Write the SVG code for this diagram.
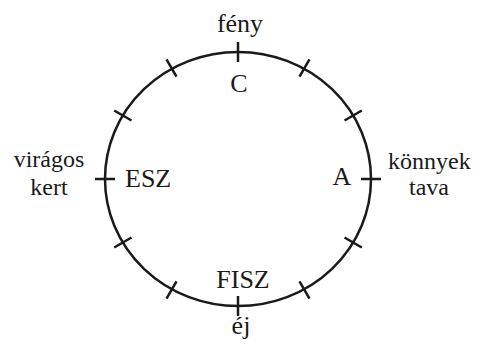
<svg xmlns="http://www.w3.org/2000/svg" width="484" height="349" viewBox="0 0 484 349">
<style>
.t{font-family:"Liberation Serif","DejaVu Serif",serif;font-size:26px;fill:#1a1a1a}
.s{font-size:24px}
.c{text-anchor:middle}
.ring{fill:none;stroke:#1a1a1a;stroke-width:2.5}
.tick{stroke:#1a1a1a;stroke-width:2.5}
</style>
<rect width="484" height="349" fill="#fff"/>
<g id="connectors">
<ellipse class="ring" cx="238" cy="179" rx="133" ry="127"/>
<g id="ticks">
<line class="tick" x1="238" y1="42" x2="238" y2="62"/>
<line class="tick" x1="238" y1="296" x2="238" y2="316"/>
<line class="tick" x1="95" y1="179" x2="115" y2="179"/>
<line class="tick" x1="361" y1="179" x2="381" y2="179"/>
<line class="tick" x1="166.5" y1="59.4" x2="176.5" y2="76.7"/>
<line class="tick" x1="309.5" y1="59.4" x2="299.5" y2="76.7"/>
<line class="tick" x1="166.5" y1="298.6" x2="176.5" y2="281.3"/>
<line class="tick" x1="309.5" y1="298.6" x2="299.5" y2="281.3"/>
<line class="tick" x1="114.2" y1="110.5" x2="131.5" y2="120.5"/>
<line class="tick" x1="361.8" y1="110.5" x2="344.5" y2="120.5"/>
<line class="tick" x1="114.2" y1="247.5" x2="131.5" y2="237.5"/>
<line class="tick" x1="361.8" y1="247.5" x2="344.5" y2="237.5"/>
</g>
</g>
<g id="feny"><text class="t c" x="240" y="32">fény</text></g>
<g id="C"><text class="t c" x="239" y="92">C</text></g>
<g id="ESZ"><text class="t" x="125" y="187">ESZ</text></g>
<g id="viragos-kert"><text class="t s c" x="49" y="167">virágos</text><text class="t s c" x="49" y="195">kert</text></g>
<g id="A"><text class="t c" x="342" y="185">A</text></g>
<g id="konnyek-tava"><text class="t s" x="388" y="169">könnyek</text><text class="t s c" x="429" y="195">tava</text></g>
<g id="FISZ"><text class="t c" x="243" y="288">FISZ</text></g>
<g id="ej"><text class="t c" x="241" y="334">éj</text></g>
</svg>
